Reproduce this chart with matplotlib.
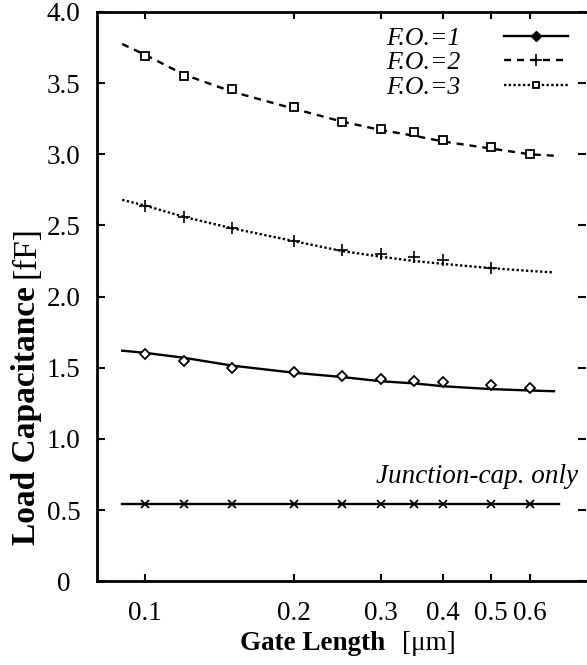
import matplotlib
matplotlib.use("Agg")
import matplotlib.pyplot as plt
from matplotlib.lines import Line2D

plt.rcParams["font.family"] = ["Liberation Serif", "DejaVu Serif"]

# 测量点 (gate length, um)
x_pts = [0.1, 0.12, 0.15, 0.2, 0.25, 0.3, 0.35, 0.4, 0.5, 0.6]
fo1_pts = [1.60, 1.55, 1.50, 1.47, 1.44, 1.42, 1.41, 1.40, 1.38, 1.36]
fo2_x = [0.1, 0.12, 0.15, 0.2, 0.25, 0.3, 0.35, 0.4, 0.5]
fo2_pts = [2.64, 2.56, 2.48, 2.39, 2.33, 2.30, 2.28, 2.26, 2.20]
fo3_pts = [3.69, 3.55, 3.46, 3.33, 3.23, 3.18, 3.16, 3.10, 3.05, 3.00]
junc_pts = [0.54, 0.54, 0.54, 0.54, 0.54, 0.54, 0.54, 0.54, 0.54, 0.54]

# 拟合曲线
x_fit = [0.09, 0.1, 0.12, 0.15, 0.2, 0.25, 0.3, 0.35, 0.4, 0.5, 0.6, 0.67]
fo1_fit = [1.62, 1.605, 1.57, 1.515, 1.465, 1.435, 1.405, 1.39, 1.37, 1.35, 1.34, 1.335]
fo2_fit = [2.68, 2.64, 2.56, 2.48, 2.39, 2.32, 2.28, 2.25, 2.23, 2.20, 2.18, 2.17]
fo3_fit = [3.775, 3.70, 3.56, 3.44, 3.32, 3.23, 3.17, 3.13, 3.09, 3.04, 3.00, 2.99]
junc_x = [0.09, 0.685]
junc_fit = [0.54, 0.54]

xticks = [0.1, 0.2, 0.3, 0.4, 0.5, 0.6]
xtick_labels = ["0.1", "0.2", "0.3", "0.4", "0.5", "0.6"]
yticks = [0, 0.5, 1.0, 1.5, 2.0, 2.5, 3.0, 3.5, 4.0]
ytick_labels = ["0", "0.5", "1.0", "1.5", "2.0", "2.5", "3.0", "3.5", "4.0"]

fig = plt.figure(figsize=(5.87, 6.65), dpi=100)
ax = fig.add_axes([0.165, 0.126, 0.8335, 0.856])

lw = 1.7
ax.plot(x_fit, fo3_fit, color="black", lw=lw, ls=(0, (3.0, 2.5)))
ax.plot(x_pts, fo3_pts, ls="none", marker="s", ms=6, mfc="white", mec="black", mew=1.3)

ax.plot(x_fit, fo2_fit, color="black", lw=lw, ls=(0, (1.0, 1.0)))
ax.plot(fo2_x, fo2_pts, ls="none", marker="+", ms=8, mec="black", mew=1.2)

ax.plot(x_fit, fo1_fit, color="black", lw=lw)
ax.plot(x_pts, fo1_pts, ls="none", marker="D", ms=5, mfc="white", mec="black", mew=1.3)

ax.plot(junc_x, junc_fit, color="black", lw=lw)
ax.plot(x_pts, junc_pts, ls="none", marker="x", ms=6, mec="black", mew=1.3)

ax.text(0.75, 0.735, "Junction-cap. only", style="italic", fontsize=19.5,
        ha="right", va="center")

ax.set_xscale("log")
ax.set_xlim(0.08, 0.778)
ax.set_ylim(0, 4.0)
ax.set_xticks(xticks, xtick_labels)
ax.xaxis.set_minor_locator(matplotlib.ticker.NullLocator())
ax.set_yticks(yticks, ytick_labels)

ax.tick_params(axis="both", direction="in", labelsize=19.5, width=1.5)
ax.tick_params(axis="x", length=5, pad=14, top=True)
ax.tick_params(axis="y", length=6, pad=24, right=True)
for lab in ax.get_yticklabels():
    lab.set_horizontalalignment("center")

for side in ["left", "bottom", "top"]:
    ax.spines[side].set_linewidth(2.0)
ax.spines["right"].set_visible(False)

# 图例 (与原图一致的线型)
handles = [
    Line2D([], [], color="black", lw=lw, marker="D", ms=5, mfc="black"),
    Line2D([], [], color="black", lw=lw, ls=(0, (3.0, 2.5)), marker="+", ms=8, mew=1.2),
    Line2D([], [], color="black", lw=lw, ls=(0, (1.0, 1.0)), marker="s", ms=5,
           mfc="white", mew=1.3),
]
ax.legend(handles, ["F.O.=1", "F.O.=2", "F.O.=3"], loc="upper right",
          bbox_to_anchor=(1.0, 1.005), frameon=False, markerfirst=False,
          prop={"style": "italic", "size": 18.5}, handlelength=2.5,
          labelspacing=0.05, handletextpad=1.7, borderaxespad=0.3)

# 坐标轴标题: 粗体 + 常规
fig.text(240 / 587, 1 - 650 / 665, "Gate Length", fontsize=19.5, weight="bold",
         ha="left", va="baseline")
fig.text(402 / 587, 1 - 650 / 665, "[\u03bcm]", fontsize=19.5,
         ha="left", va="baseline")
fig.text(35 / 587, 1 - 545 / 665, "Load Capacitance", fontsize=24, weight="bold",
         rotation=90, rotation_mode="anchor", ha="left", va="baseline")
fig.text(35 / 587, 1 - 278 / 665, "[fF]", fontsize=24,
         rotation=90, rotation_mode="anchor", ha="left", va="baseline")

fig.savefig("out.png", dpi=100)
